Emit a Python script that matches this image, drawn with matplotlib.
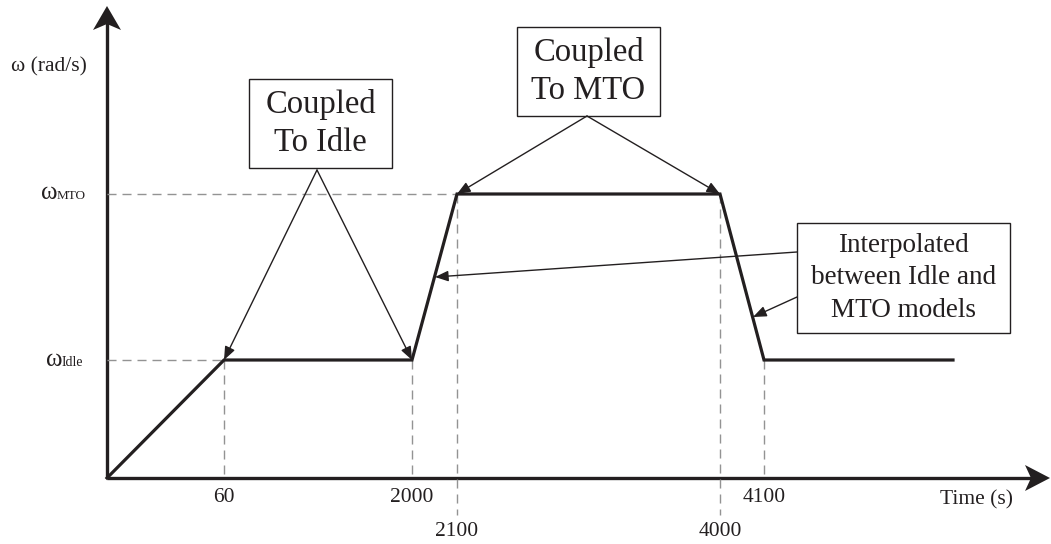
from matplotlib import pyplot as plt
from matplotlib.patches import Polygon, Rectangle

plt.rcParams['font.family'] = ['Liberation Serif', 'DejaVu Serif']

# Time instants shown on the axis and where they sit on the (schematic) time axis
time_labels = ['60', '2000', '2100', '4000', '4100']
time_pos = [117, 305, 350, 613, 657]
label_row = [0, 0, 1, 1, 0]      # 2100 and 4000 are written one row lower
time_end = 846

# Speed levels (schematic)
omega_idle = 118
omega_mto = 284

# Speed profile
profile_x = [0] + time_pos + [time_end]
profile_y = [0, omega_idle, omega_idle, omega_mto, omega_mto, omega_idle, omega_idle]

ink = '#231f20'
grey = '#939393'

fig = plt.figure(figsize=(10.51, 5.44), dpi=100)
ax = fig.add_axes([0, 0, 1, 1])
ax.set_xlim(-107, 944)
ax.set_ylim(-66, 478)
ax.axis('off')

# Axes with arrow heads
ax.plot([0, 925], [0, 0], color=ink, lw=2.4, solid_capstyle='butt')
ax.plot([0, 0], [0, 455], color=ink, lw=2.4, solid_capstyle='butt')
ax.add_patch(Polygon([[943, 0], [918, 13], [924, 0], [918, -13]], closed=True, color=ink, lw=0))
ax.add_patch(Polygon([[0, 472], [-14, 448], [0, 454], [14, 448]], closed=True, color=ink, lw=0))

# Dashed guide lines
dash = dict(color=grey, lw=1.0, dashes=(6.5, 4.3))
ax.plot([0, time_pos[2]], [omega_mto, omega_mto], **dash)
ax.plot([0, time_pos[0]], [omega_idle, omega_idle], **dash)
for x, y, row in zip(time_pos, profile_y[1:6], label_row):
    ax.plot([x, x], [y, -37 if row else 0], **dash)

# Speed profile
ax.plot(profile_x, profile_y, color=ink, lw=2.3, solid_joinstyle='miter')

# Tick labels
for x, lab, row in zip(time_pos, time_labels, label_row):
    ax.text(x, -53 if row else -20, lab, ha='center', va='center', fontsize=15.5, color=ink)
ax.text(869, -22, 'Time (s)', ha='center', va='center', fontsize=15.5, color=ink)
ax.text(-58, 411, 'ω (rad/s)', ha='center', va='center', fontsize=15.5, color=ink)

# omega level labels
ax.text(-50, 279, 'ω', ha='right', va='baseline', fontsize=18, color=ink)
ax.text(-50, 279, 'MTO', ha='left', va='baseline', fontsize=9.5, color=ink)
ax.text(-45, 112, 'ω', ha='right', va='baseline', fontsize=18, color=ink)
ax.text(-45, 112, 'Idle', ha='left', va='baseline', fontsize=10, color=ink)


def box(x0, x1, y0, y1, text, size, spacing):
    ax.add_patch(Rectangle((x0, y0), x1 - x0, y1 - y0, fill=False, edgecolor=ink, lw=1.0))
    ax.text((x0 + x1) / 2, (y0 + y1) / 2, text, ha='center', va='center',
            fontsize=size, color=ink, linespacing=spacing, multialignment='center')


def pointer(start, end):
    ax.annotate('', xy=end, xytext=start,
                arrowprops=dict(arrowstyle='-|>,head_length=0.8,head_width=0.32',
                                mutation_scale=10, color=ink, lw=1.0,
                                shrinkA=0, shrinkB=0))


# Annotation boxes
box(142, 285, 310, 399, 'Coupled\nTo Idle', 23.5, 1.32)
pointer((210, 308), (time_pos[0], omega_idle))
pointer((210, 308), (time_pos[1], omega_idle))

box(410, 553, 362, 451, 'Coupled\nTo MTO', 23.5, 1.32)
pointer((480, 362), (time_pos[2], omega_mto))
pointer((480, 362), (time_pos[3], omega_mto))

box(690, 903, 145, 255, 'Interpolated\nbetween Idle and\nMTO models', 19.5, 1.42)
pointer((690, 226), (328, 201))
pointer((690, 181), (646, 161))

fig.savefig('out.png', dpi=100)
